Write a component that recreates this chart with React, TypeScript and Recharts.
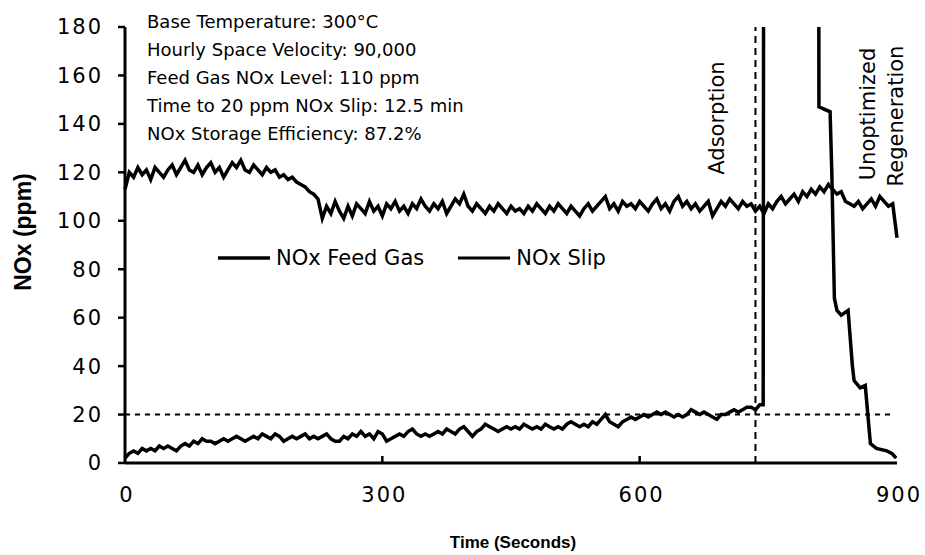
import React from 'react';
import { LineChart, Line, XAxis, YAxis, ReferenceLine, Legend, Customized } from 'recharts';

// Time step (seconds) between sampled readings
const STEP = 5;

// NOx feed gas (ppm), t = 0..900 s every 5 s
const feedGasNOx = [
  113, 120, 118, 122, 119, 121, 117, 122, 120, 118,
  121, 123, 119, 122, 125, 121, 120, 123, 119, 122,
  124, 120, 122, 118, 121, 124, 122, 125, 121, 120,
  123, 121, 119, 122, 120, 121, 118, 119, 117, 118,
  116, 115, 114, 112, 111, 109, 101, 106, 103, 108,
  104, 101, 106, 102, 107, 105, 103, 108, 104, 106,
  102, 107, 105, 108, 104, 106, 103, 107, 105, 109,
  106, 104, 107, 105, 108, 103, 106, 109, 107, 111,
  106, 104, 107, 105, 103, 106, 104, 107, 105, 103,
  106, 104, 105, 103, 106, 104, 107, 105, 103, 106,
  104, 107, 105, 103, 106, 104, 102, 105, 107, 104,
  106, 108, 110, 105, 107, 104, 108, 106, 107, 105,
  108, 106, 104, 107, 109, 105, 107, 104, 108, 110,
  106, 108, 105, 107, 104, 106, 108, 102, 105, 108,
  106, 109, 107, 105, 108, 106, 107, 104, 106, 103,
  107, 105, 108, 110, 107, 109, 111, 108, 112, 110,
  113, 111, 114, 112, 115, 113, 111, 112, 108, 107,
  106, 108, 105, 107, 109, 106, 110, 108, 106, 107,
  93,
];

// NOx slip (ppm) during adsorption, t = 0..740 s every 5 s
const slipNOx = [
  2, 4, 5, 4, 6, 5, 6, 5, 7, 6,
  7, 6, 5, 7, 8, 7, 9, 8, 10, 9,
  9, 8, 9, 10, 9, 10, 11, 10, 9, 10,
  11, 10, 12, 11, 10, 12, 11, 9, 10, 11,
  10, 11, 12, 10, 11, 10, 11, 12, 10, 9,
  9, 11, 10, 12, 11, 13, 11, 12, 10, 13,
  12, 9, 10, 11, 12, 11, 13, 14, 12, 11,
  12, 11, 12, 13, 12, 14, 13, 12, 14, 15,
  13, 11, 13, 14, 16, 15, 14, 13, 14, 15,
  14, 15, 14, 16, 15, 14, 15, 14, 16, 15,
  14, 15, 14, 16, 17, 16, 15, 16, 15, 17,
  16, 18, 20, 17, 16, 15, 17, 18, 19, 18,
  19, 20, 19, 20, 21, 20, 21, 20, 19, 20,
  19, 20, 22, 21, 20, 21, 20, 19, 18, 20,
  20, 21, 22, 21, 22, 23, 23, 22, 24,
];

// NOx slip breakthrough and regeneration (time s, ppm)
const regenTime = [744, 745, 808, 809, 822, 824, 827, 830, 835, 843, 848, 850, 857, 863, 866, 869, 876, 888, 894, 899];
const regenNOx = [24, 400, 400, 147, 145, 120, 68, 63, 61, 63, 40, 34, 31, 32, 20, 8, 6, 5, 4, 2];

const xTicks = [0, 300, 600, 900];
const yTicks = [0, 20, 40, 60, 80, 100, 120, 140, 160, 180];
const slipLimit = 20;
const limitEnd = 895;
const adsorptionEnd = 735;

const seriesNames = ['NOx Feed Gas', 'NOx Slip'];
const notes = [
  'Base Temperature: 300°C',
  'Hourly Space Velocity: 90,000',
  'Feed Gas NOx Level: 110 ppm',
  'Time to 20 ppm NOx Slip: 12.5 min',
  'NOx Storage Efficiency: 87.2%',
];
const phaseLabels = ['Adsorption', 'Unoptimized', 'Regeneration'];
const xTitle = 'Time (Seconds)';
const yTitle = 'NOx (ppm)';

const feedData = feedGasNOx.map((v, i) => ({ t: i * STEP, v }));
const slipData = [
  ...slipNOx.map((v, i) => ({ t: i * STEP, v })),
  ...regenTime.map((t, i) => ({ t, v: regenNOx[i] })),
];

const FONT = 'DejaVu Sans';

const XTick = (props: any) => {
  const { x, y, payload } = props;
  const v = payload.value;
  const mark = v > 0 && v < 900;
  return (
    <g>
      {mark && <line x1={x} y1={y} x2={x} y2={y - 7} stroke="#000" strokeWidth={2.5} />}
      <text x={x + 2} y={y + 32} textAnchor="middle" dominantBaseline="central"
        fontFamily={FONT} fontSize={21} letterSpacing={2} fill="#000">{v}</text>
    </g>
  );
};

const Overlay = () => (
  <g fontFamily={FONT} fill="#000">
    {notes.map((s, i) => (
      <text key={s} x={147} y={28 + i * 28} fontSize={18}>{s}</text>
    ))}
    <text x={717} y={118} fontSize={21} textAnchor="middle" dominantBaseline="central"
      transform="rotate(-90 717 118)">{phaseLabels[0]}</text>
    <text x={868} y={114} fontSize={21} textAnchor="middle" dominantBaseline="central"
      transform="rotate(-90 868 114)">{phaseLabels[1]}</text>
    <text x={896} y={116} fontSize={21} textAnchor="middle" dominantBaseline="central"
      transform="rotate(-90 896 116)">{phaseLabels[2]}</text>
    <text x={513} y={542} fontSize={17} fontWeight="bold" fontFamily="Liberation Sans"
      textAnchor="middle" dominantBaseline="central">{xTitle}</text>
    <text x={23} y={232} fontSize={23} fontWeight="bold" fontFamily="Liberation Sans"
      textAnchor="middle" dominantBaseline="central" transform="rotate(-90 23 232)">{yTitle}</text>
  </g>
);

const LegendContent = () => (
  <div style={{ display: 'flex', alignItems: 'center', fontFamily: FONT, fontSize: 21, color: '#000', whiteSpace: 'nowrap' }}>
    <svg width={52} height={6}><line x1={0} y1={3} x2={52} y2={3} stroke="#000" strokeWidth={3.5} /></svg>
    <span style={{ marginLeft: 6 }}>{seriesNames[0]}</span>
    <svg width={52} height={6} style={{ marginLeft: 34 }}><line x1={0} y1={3} x2={52} y2={3} stroke="#000" strokeWidth={3} /></svg>
    <span style={{ marginLeft: 6 }}>{seriesNames[1]}</span>
  </div>
);

export default function App() {
  return (
    <div style={{ position: 'absolute', left: 0, top: 0, width: 925, height: 555, background: '#fff' }}>
      <LineChart width={925} height={555} margin={{ top: 27, right: 28, bottom: 32, left: 0 }}>
        <XAxis type="number" dataKey="t" domain={[0, 900]} ticks={xTicks} height={60}
          axisLine={{ stroke: '#000', strokeWidth: 3 }} tickLine={false} tickSize={0} tickMargin={0}
          tick={<XTick />} interval={0} allowDuplicatedCategory={false} />
        <YAxis type="number" domain={[0, 180]} ticks={yTicks} width={125} allowDataOverflow
          axisLine={{ stroke: '#000', strokeWidth: 3 }} tickLine={{ stroke: '#000', strokeWidth: 2.5 }}
          tickSize={7} tickMargin={15} interval={0}
          tick={{ fill: '#000', fontSize: 21, fontFamily: FONT, letterSpacing: 2 }} />
        <ReferenceLine segment={[{ x: 0, y: slipLimit }, { x: limitEnd, y: slipLimit }]}
          stroke="#000" strokeWidth={2} strokeDasharray="5 5" />
        <ReferenceLine x={adsorptionEnd} stroke="#000" strokeWidth={2} strokeDasharray="7 5" />
        <Line data={feedData} dataKey="v" name={seriesNames[0]} type="linear" stroke="#000"
          strokeWidth={3.5} dot={false} isAnimationActive={false} />
        <Line data={slipData} dataKey="v" name={seriesNames[1]} type="linear" stroke="#000"
          strokeWidth={3.5} dot={false} isAnimationActive={false} />
        <Legend layout="horizontal" verticalAlign="middle" align="center" content={<LegendContent />}
          wrapperStyle={{ left: 218, top: 246, width: 'auto' }} />
        <Customized component={<Overlay />} />
      </LineChart>
    </div>
  );
}
